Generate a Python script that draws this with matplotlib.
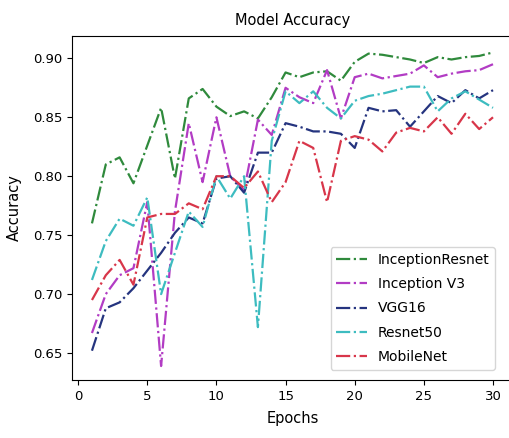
import numpy as np
import matplotlib
matplotlib.use('Agg')
import matplotlib.pyplot as plt

epochs = list(range(1, 31))

inception_resnet = [0.760, 0.810, 0.816, 0.794, 0.826, 0.858, 0.798, 0.866, 0.874, 0.859,
                    0.851, 0.855, 0.849, 0.867, 0.888, 0.884, 0.888, 0.889, 0.881, 0.897,
                    0.904, 0.903, 0.901, 0.899, 0.896, 0.901, 0.899, 0.901, 0.902, 0.905]
inception_v3 = [0.667, 0.700, 0.716, 0.722, 0.778, 0.639, 0.770, 0.845, 0.795, 0.850,
                0.800, 0.788, 0.848, 0.835, 0.875, 0.867, 0.862, 0.890, 0.849, 0.884,
                0.887, 0.883, 0.885, 0.887, 0.894, 0.884, 0.887, 0.889, 0.890, 0.895]
vgg16 = [0.652, 0.688, 0.693, 0.705, 0.720, 0.735, 0.752, 0.765, 0.760, 0.798,
         0.800, 0.786, 0.820, 0.820, 0.845, 0.842, 0.838, 0.838, 0.836, 0.824,
         0.858, 0.855, 0.856, 0.842, 0.855, 0.868, 0.862, 0.873, 0.866, 0.873]
resnet50 = [0.712, 0.745, 0.764, 0.758, 0.782, 0.700, 0.735, 0.770, 0.757, 0.800,
            0.781, 0.800, 0.672, 0.830, 0.872, 0.862, 0.872, 0.858, 0.849, 0.864,
            0.868, 0.870, 0.873, 0.876, 0.876, 0.855, 0.866, 0.872, 0.865, 0.858]
mobilenet = [0.695, 0.716, 0.729, 0.708, 0.765, 0.768, 0.768, 0.777, 0.772, 0.800,
             0.800, 0.790, 0.804, 0.778, 0.795, 0.830, 0.824, 0.778, 0.830, 0.834,
             0.831, 0.821, 0.837, 0.841, 0.838, 0.850, 0.836, 0.853, 0.840, 0.850]

series = [
    ('InceptionResnet', inception_resnet, '#2f8a3c'),
    ('Inception V3', inception_v3, '#b23cc4'),
    ('VGG16', vgg16, '#25347f'),
    ('Resnet50', resnet50, '#3dbcc0'),
    ('MobileNet', mobilenet, '#d8364a'),
]

fig = plt.figure(figsize=(5.10, 4.38), dpi=100)
ax = fig.add_axes([0.141, 0.132, 0.865, 0.786])

for name, vals, col in series:
    ax.plot(epochs, vals, linestyle='-.', color=col, linewidth=1.6, label=name)

ax.set_xlim(-0.45, 31.45)
ax.set_ylim(0.627, 0.919)
ax.set_xticks([0, 5, 10, 15, 20, 25, 30])
ax.set_yticks([0.65, 0.70, 0.75, 0.80, 0.85, 0.90])
ax.set_yticklabels(['0.65', '0.70', '0.75', '0.80', '0.85', '0.90'])
ax.spines['right'].set_visible(False)
ax.tick_params(labelsize=9.5)
ax.set_title('Model Accuracy', fontsize=10.5, pad=8)
ax.set_xlabel('Epochs', fontsize=10.5, labelpad=6)
ax.set_ylabel('Accuracy', fontsize=10.5, labelpad=8)
ax.legend(loc='lower right', bbox_to_anchor=(0.975, 0.01), fontsize=10,
          labelspacing=0.75, handlelength=2.2)

fig.savefig('out.png', dpi=100)
